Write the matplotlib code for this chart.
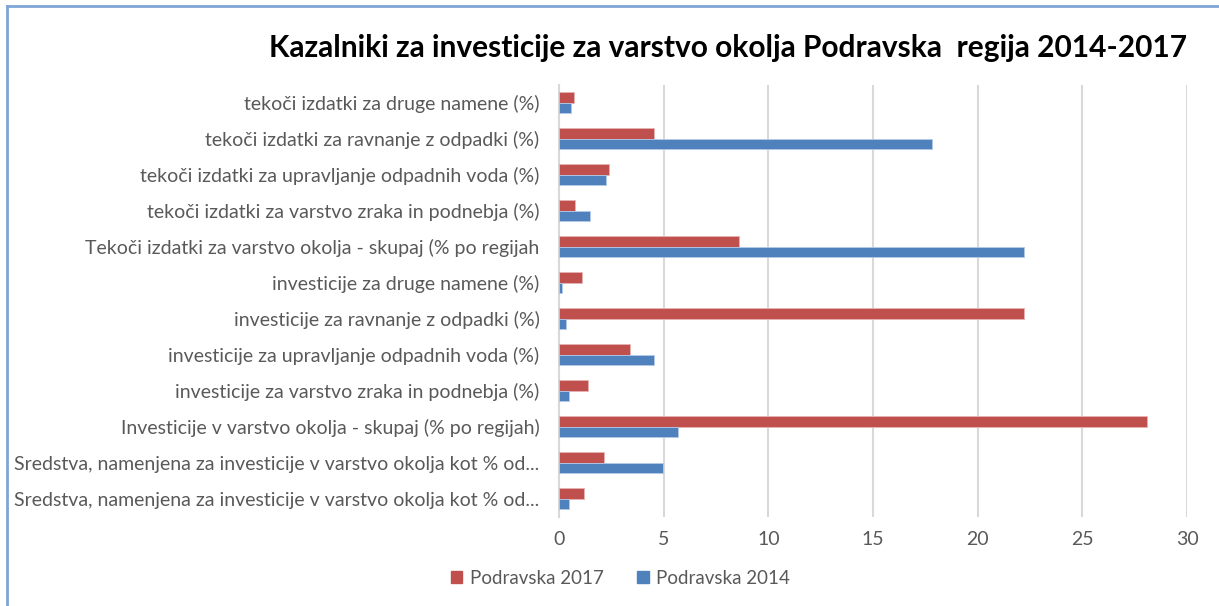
import matplotlib.pyplot as plt
import numpy as np
from matplotlib.patches import Patch

plt.rcParams['font.family'] = ['Lato', 'DejaVu Sans']

categories = [
    'tekoči izdatki za druge namene (%)',
    'tekoči izdatki za ravnanje z odpadki (%)',
    'tekoči izdatki za upravljanje odpadnih voda (%)',
    'tekoči izdatki za varstvo zraka in podnebja (%)',
    'Tekoči izdatki za varstvo okolja - skupaj (% po regijah',
    'investicije za druge namene (%)',
    'investicije za ravnanje z odpadki (%)',
    'investicije za upravljanje odpadnih voda (%)',
    'investicije za varstvo zraka in podnebja (%)',
    'Investicije v varstvo okolja - skupaj (% po regijah)',
    'Sredstva, namenjena za investicije v varstvo okolja kot % od...',
    'Sredstva, namenjena za investicije v varstvo okolja kot % od...',
]
podravska_2017 = [0.7, 4.55, 2.38, 0.75, 8.62, 1.1, 22.2, 3.4, 1.37, 28.1, 2.17, 1.17]
podravska_2014 = [0.56, 17.82, 2.25, 1.5, 22.2, 0.14, 0.35, 4.55, 0.49, 5.7, 4.97, 0.49]
xticks = [0, 5, 10, 15, 20, 25, 30]

red = '#C0504D'
blue = '#4F81BD'
grey_text = '#595959'

fig = plt.figure(figsize=(12.19, 6.06), dpi=100)
ax = fig.add_axes([0.4586, 0.147, 0.5152, 0.713])

y = np.arange(len(categories))
h = 0.29
ax.barh(y - h / 2, podravska_2017, height=h, color=red, edgecolor='#E8B5B4', linewidth=0.6, zorder=3)
ax.barh(y + h / 2, podravska_2014, height=h, color=blue, edgecolor='#B4C9E6', linewidth=0.6, zorder=3)

ax.set_ylim(len(categories) - 0.5, -0.5)
ax.set_xlim(0, 30)
ax.set_xticks(xticks)
ax.set_yticks(y)
ax.set_yticklabels(categories)
ax.xaxis.grid(True, color='#D9D9D9', linewidth=1.5, zorder=0)
for s in ['top', 'right', 'bottom']:
    ax.spines[s].set_visible(False)
ax.spines['left'].set_color('#D9D9D9')
ax.spines['left'].set_linewidth(1.5)
ax.tick_params(axis='both', length=0, labelsize=14, labelcolor=grey_text)
ax.tick_params(axis='y', pad=14)
ax.tick_params(axis='x', pad=10)

fig.text(0.597, 0.92, 'Kazalniki za investicije za varstvo okolja Podravska  regija 2014-2017',
         ha='center', va='center', fontsize=21.5, fontweight='bold', color='black')

handles = [Patch(color=red, label='Podravska 2017'), Patch(color=blue, label='Podravska 2014')]
fig.legend(handles=handles, loc='center', bbox_to_anchor=(0.509, 0.046), ncol=2, frameon=False,
           fontsize=13.5, labelcolor=grey_text, handlelength=0.6, handleheight=0.6,
           handletextpad=0.4, columnspacing=1.8)

# outer chart frame (left and top edges visible in the crop)
fig.add_artist(plt.Line2D([0.006, 0.006], [0, 0.99], transform=fig.transFigure, color='#7FA6D6', linewidth=2))
fig.add_artist(plt.Line2D([0.006, 1], [0.99, 0.99], transform=fig.transFigure, color='#7FA6D6', linewidth=2))

fig.savefig('out.png', dpi=100)
